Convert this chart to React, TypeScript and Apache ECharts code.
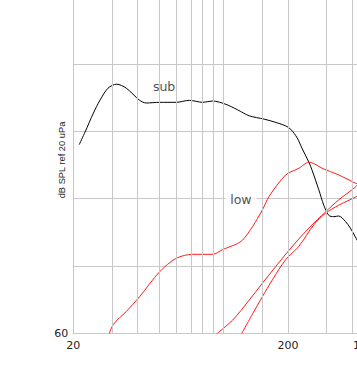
import React, { useEffect, useRef } from "react";
import * as echarts from "echarts";

// Frequencies (Hz) and levels (dB SPL)
const FREQ_SUB = [21.3, 22.7, 24.8, 26.6, 29.0, 31.8, 35.3, 40.7, 43.7, 50.4, 60.2, 69.4, 80.0, 88.9, 102.6, 116, 131.6, 154.4, 171.7, 194.5, 205.2, 220.2, 231.4, 249.4, 258.2, 277.4, 292.6, 308.6, 325.6, 343.4, 368.8, 389, 410.2, 440];
const SPL_SUB = [88.0, 89.9, 92.7, 94.6, 96.4, 97.0, 96.4, 94.6, 94.2, 94.3, 94.3, 94.6, 94.3, 94.5, 94.0, 93.2, 92.3, 91.8, 91.4, 90.8, 90.3, 89.0, 87.5, 85.4, 84.2, 81.3, 79.0, 77.5, 77.3, 77.4, 76.6, 75.6, 74.3, 72.5];

const FREQ_LOW = [28.5, 30.6, 35.3, 40.7, 50.4, 60.2, 71.9, 88.9, 99, 114.2, 122.5, 136.3, 151.6, 162.8, 194.5, 224.2, 249.4, 263, 287.4, 343.4, 410.2, 440];
const SPL_LOW = [58.5, 61.2, 63.2, 65.4, 69.1, 71.1, 71.7, 71.7, 72.4, 73.2, 73.8, 75.8, 78.3, 80.3, 83.5, 84.5, 85.4, 85.2, 84.5, 83.5, 82.3, 81.9];

const FREQ_A = [85.9, 110.1, 131.6, 151.6, 201.5, 249.4, 298, 343.4, 410.2, 440];
const SPL_A = [59.0, 61.9, 64.9, 67.4, 72.3, 75.6, 78.0, 79.8, 81.7, 82.8];

const FREQ_B = [117, 136.3, 151.6, 168.7, 194.5, 224.2, 263, 298, 343.4, 410.2, 440];
const SPL_B = [59.0, 62.8, 65.4, 67.9, 70.9, 72.9, 76.1, 77.8, 79.0, 80.2, 80.8];

const GRID_FREQS = [30, 40, 50, 60, 70, 80, 90, 100, 150, 200, 300, 400, 500, 600, 700, 800, 900, 1000];
const Y_LABELS = [60, 110];
const CURVE_LABELS = [
  { name: "sub", f: 52.9, db: 96.6 },
  { name: "low", f: 120.4, db: 79.8 },
];
const Y_TITLE = "dB SPL ref 20 uPa";
const EXTRA_X_LABEL = "1k";

const F_MIN = 20;
const F_MAX = 2000;
const DB_MIN = 60;
const DB_MAX = 110;

const SHIFT = 20; // inner container is shifted up by this many px
const FONT = "'DejaVu Sans', Verdana, sans-serif";

const pts = (f: number[], v: number[]) => f.map((x, i) => [Math.log10(x), v[i]]);

export default function App() {
  const ref = useRef<HTMLDivElement>(null);
  useEffect(() => {
    if (!ref.current) return;
    const chart = echarts.init(ref.current, undefined, { renderer: "svg" });
    const lineBase = {
      type: "line" as const,
      showSymbol: false,
      symbol: "none",
      smooth: 0.3,
      z: 3,
      silent: true,
    };
    chart.setOption({
      animation: false,
      backgroundColor: "#ffffff",
      grid: { left: 73.3, top: -3.25 + SHIFT, width: 216 * 2, height: 336.25 },
      xAxis: {
        type: "value",
        min: Math.log10(F_MIN),
        max: Math.log10(F_MAX),
        interval: 1,
        axisLine: { show: true, lineStyle: { color: "#c8c8c8", width: 1 } },
        axisTick: { show: false },
        splitLine: { show: false },
        axisLabel: {
          color: "#222",
          fontSize: 11,
          fontFamily: FONT,
          margin: 7,
          formatter: (v: number) => String(Math.round(Math.pow(10, v))),
        },
      },
      yAxis: {
        type: "value",
        min: DB_MIN,
        max: DB_MAX,
        interval: 10,
        axisLine: { show: true, lineStyle: { color: "#c8c8c8", width: 1 } },
        axisTick: { show: false },
        splitLine: { show: true, lineStyle: { color: "#c8c8c8", width: 1 } },
        axisLabel: {
          color: "#222",
          fontSize: 11,
          fontFamily: FONT,
          margin: 5,
          formatter: (v: number) => (Y_LABELS.includes(v) ? String(v) : ""),
        },
      },
      graphic: [
        {
          type: "text",
          x: 62,
          y: 160 + SHIFT,
          rotation: Math.PI / 2,
          style: {
            text: Y_TITLE,
            fill: "#222",
            font: "9.3px 'Liberation Sans', Arial, sans-serif",
            textAlign: "center",
            textVerticalAlign: "middle",
          },
        },
        {
          type: "text",
          x: 353,
          y: 340 + SHIFT,
          style: {
            text: EXTRA_X_LABEL,
            fill: "#222",
            font: "11px " + FONT,
            textAlign: "left",
            textVerticalAlign: "top",
          },
        },
      ],
      series: [
        {
          type: "line",
          data: [[Math.log10(F_MIN), DB_MIN]],
          showSymbol: false,
          symbol: "none",
          lineStyle: { opacity: 0 },
          z: 1,
          silent: true,
          markLine: {
            silent: true,
            symbol: ["none", "none"],
            label: { show: false },
            lineStyle: { type: "solid", color: "#c8c8c8", width: 1 },
            emphasis: { disabled: true },
            data: GRID_FREQS.map((f) => ({ xAxis: Math.log10(f) })),
          },
        },
        { ...lineBase, name: "sub", data: pts(FREQ_SUB, SPL_SUB), lineStyle: { color: "#000", width: 1 } },
        { ...lineBase, name: "low", data: pts(FREQ_LOW, SPL_LOW), lineStyle: { color: "#ff1a1a", width: 1 } },
        { ...lineBase, name: "a", data: pts(FREQ_A, SPL_A), lineStyle: { color: "#ff1a1a", width: 1 } },
        { ...lineBase, name: "b", data: pts(FREQ_B, SPL_B), lineStyle: { color: "#ff1a1a", width: 1 } },
        {
          type: "scatter",
          z: 4,
          silent: true,
          symbolSize: 1,
          itemStyle: { color: "rgba(0,0,0,0)" },
          data: CURVE_LABELS.map((l) => ({ name: l.name, value: [Math.log10(l.f), l.db] })),
          label: {
            show: true,
            position: "inside",
            formatter: "{b}",
            color: "#222",
            fontSize: 12.5,
            fontFamily: FONT,
            backgroundColor: "#ffffff",
            padding: [1, 5],
          },
        },
      ],
    });
    return () => chart.dispose();
  }, []);
  return (
    <div style={{ position: "fixed", left: 0, top: 0, width: 357, height: 378, overflow: "hidden", background: "#fff" }}>
      <div ref={ref} style={{ position: "absolute", left: 0, top: -SHIFT, width: 520, height: 378 + SHIFT }} />
    </div>
  );
}
